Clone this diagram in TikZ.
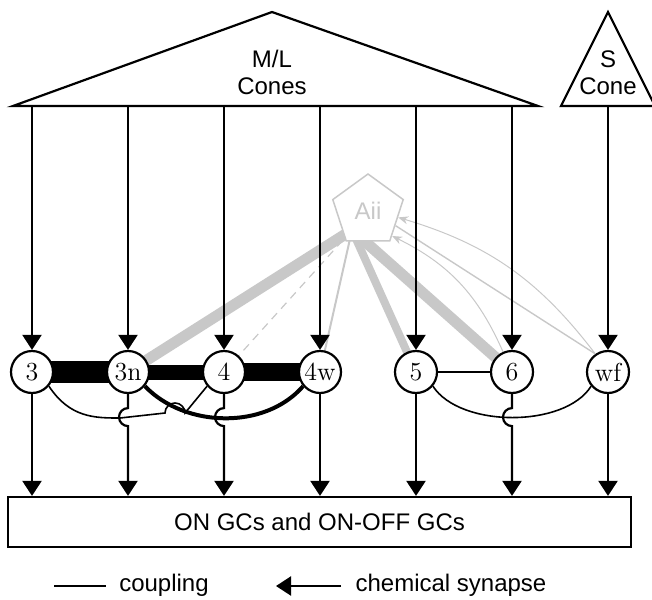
\documentclass[tikz,border=0pt]{standalone}
\usepackage{fontspec}
\usepackage{tikz}
\usetikzlibrary{arrows.meta, shapes.geometric, backgrounds}
\usetikzlibrary{positioning}
\newfontfamily\arialfont{Liberation Sans}
\newcommand{\txtfont}{\arialfont\fontsize{12}{13.5}\selectfont}
\definecolor{aiigray}{RGB}{200,200,200}

\begin{document}
\begin{tikzpicture}[x=0.5pt, y=-0.5pt,
		cell/.style={circle, draw, line width=1.1pt, fill=white, minimum size=21pt, inner sep=0pt, font=\fontsize{13}{15}\selectfont},
		syn/.style={line width=1.1pt, -{Triangle[length=7.5pt, width=9.5pt]}},
		coupling/.style={line width=0.8pt},
		gapjn/.style={line width=#1},
		aiiline/.style={aiigray, line width=#1},
		feedback/.style={aiigray, line width=0.5pt, -{Stealth[length=5pt, width=4pt]}}]

		\useasboundingbox (0,0) rectangle (652,599);

		\draw[line width=1.1pt] (13,106) -- (272,12) -- (538,106) -- cycle;
		\draw[line width=1.1pt] (561,106) -- (608,12) -- (655,106) -- cycle;
		\node[font=\txtfont, align=center] (ml) at (272,72.5) {M/L\\Cones};
		\node[font=\txtfont, align=center] (scone) at (608,72.5) {S\\Cone};
		\coordinate (base) at (0,106);

		\foreach \x/\nm in {32/3, 128/3n, 224/4, 320/4w, 416/5, 512/6, 608/wf}
			\node[cell] (c\nm) at (\x,372) {\nm};

		\node[regular polygon, regular polygon sides=5, draw=aiigray, fill=white, line width=0.75pt,
			minimum size=37pt, inner sep=0pt, text=aiigray, font=\txtfont] (aii) at (368,211) {Aii};

		\node[draw, line width=1.1pt, minimum width=311.5pt, minimum height=25pt, inner sep=0pt,
			font=\txtfont] (gc) at (319.5,522) {ON GCs and ON-OFF GCs};

		\begin{scope}[on background layer]
			\draw[gapjn=11pt] (c3.center) -- (c3n.center);
			\draw[gapjn=7.5pt] (c3n.center) -- (c4.center);
			\draw[gapjn=9pt] (c4.center) -- (c4w.center);
			\coordinate (hub) at (352,230);
			\draw[aiiline=5.5pt] (hub) -- (c3n.center);
			\draw[aiiline=5.5pt] (hub) -- (c6.center);
			\draw[aiiline=4pt] (hub) -- (c5.center);
			\draw[aiiline=1pt] (hub) -- (c4w.center);
			\draw[aiiline=0.6pt, dash pattern=on 4pt off 3pt] (hub) -- (c4.center);
		\end{scope}

		\draw[feedback] (c6.114) to[bend right=20] (aii.-46);
		\draw[feedback] (cwf.125) to[bend right=18] (aii.-12);
		\draw[aiiline=0.7pt] (cwf.125) -- (aii.-28);

		\foreach \nm in {3, 3n, 4, 4w, 5, 6, wf}
			\draw[syn] (c\nm |- base) -- (c\nm);
		\foreach \nm in {3, 4w, 5, wf}
			\draw[syn] (c\nm) -- (c\nm |- gc.north);
		\foreach \nm in {3n, 4, 6}
			\draw[syn] (c\nm.south) -- ++(0,14) arc[start angle=270, end angle=90, radius=9] -- (c\nm |- gc.north);

		\draw[coupling] (c5) -- (c6);
		\draw[coupling] (c3.-40) .. controls (70,418) and (95,418) .. (120,418) -- (165,413)
			arc[start angle=180, end angle=360, radius=10] -- (c4.-140);
		\draw[line width=2pt] (c3n.-40) .. controls (185,428) and (265,430) .. (c4w.-140);
		\draw[coupling] (c5.-40) .. controls (460,428) and (565,428) .. (cwf.-140);

		\coordinate (cpl-a) at (54,586);
		\coordinate (cpl-b) at (106,586);
		\draw[coupling] (cpl-a) -- (cpl-b);
		\node[font=\txtfont, anchor=base] (cpl) at (164,591) {coupling};
		\coordinate (syn-a) at (341,586);
		\coordinate (syn-b) at (276,586);
		\draw[syn] (syn-a) -- (syn-b);
		\node[font=\txtfont, anchor=base] (synlbl) at (451,591) {chemical synapse};
\end{tikzpicture}
\end{document}
